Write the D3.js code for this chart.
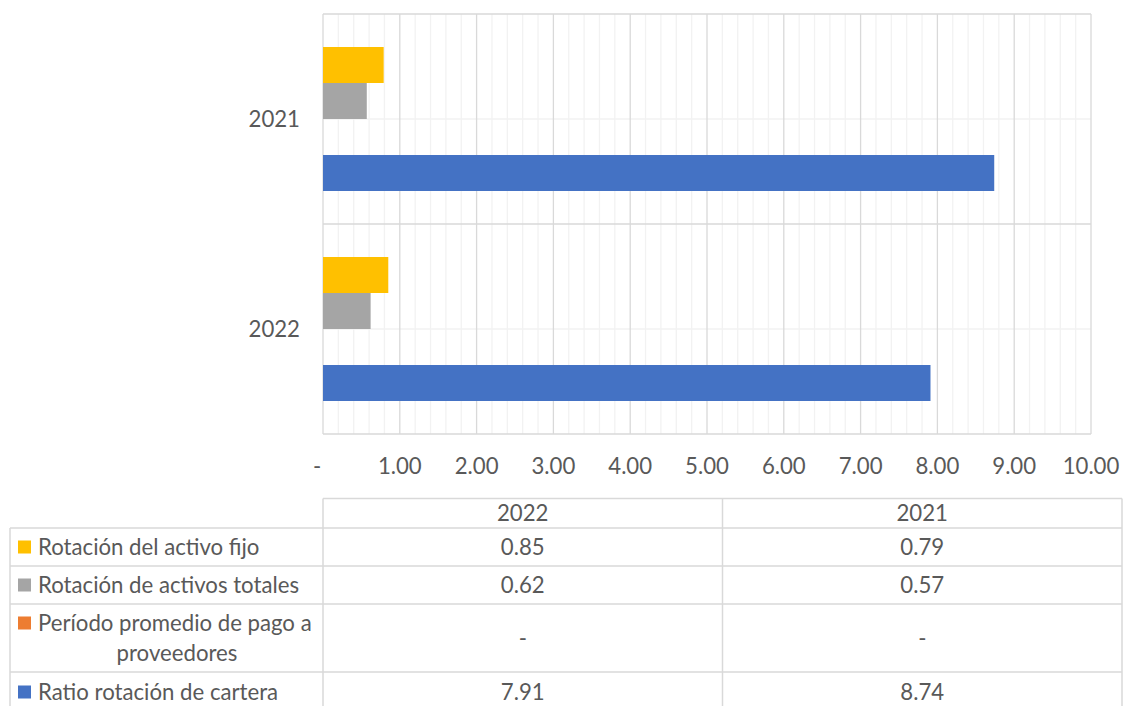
<!DOCTYPE html>
<html>
<head>
<meta charset="utf-8">
<script src="https://cdn.jsdelivr.net/npm/d3@7"></script>
<style>
  html, body { margin: 0; padding: 0; background: #fff; }
  svg { display: block; }
  text { font-family: Lato, "Open Sans", sans-serif; fill: #595959; }
</style>
</head>
<body>
<svg id="chart" width="1123" height="706"></svg>
<script>
// ---- data ----
const categories = ["2021", "2022"];           // top to bottom on the chart
const tableYears = ["2022", "2021"];           // data table column order
const seriesNames = [
  "Rotación del activo fijo",
  "Rotación de activos totales",
  "Período promedio de pago a proveedores",
  "Ratio rotación de cartera"
];
const seriesColors = ["#FFC000", "#A5A5A5", "#ED7D31", "#4472C4"];
const valuesRotacionActivoFijo = { "2022": 0.85, "2021": 0.79 };
const valuesRotacionActivosTotales = { "2022": 0.62, "2021": 0.57 };
const valuesPeriodoPromedioPago = { "2022": 0, "2021": 0 };
const valuesRatioRotacionCartera = { "2022": 7.91, "2021": 8.74 };
const seriesValues = [valuesRotacionActivoFijo, valuesRotacionActivosTotales, valuesPeriodoPromedioPago, valuesRatioRotacionCartera];
const xTicks = [0, 1, 2, 3, 4, 5, 6, 7, 8, 9, 10];
const xTickLabels = ["-", "1.00", "2.00", "3.00", "4.00", "5.00", "6.00", "7.00", "8.00", "9.00", "10.00"];
const legendLabelLines = [
  ["Rotación del activo fijo"],
  ["Rotación de activos totales"],
  ["Período promedio de pago a", "proveedores"],
  ["Ratio rotación de cartera"]
];
const tableTexts = [
  { "2022": "0.85", "2021": "0.79" },
  { "2022": "0.62", "2021": "0.57" },
  { "2022": "-", "2021": "-" },
  { "2022": "7.91", "2021": "8.74" }
];

// ---- layout ----
const FS = "22.2px";
const svg = d3.select("#chart");
const plot = { left: 323, right: 1091, top: 14, bottom: 434 };
const x = d3.scaleLinear().domain([0, 10]).range([plot.left, plot.right]);
const yCat = d3.scaleBand().domain(categories).range([plot.top, plot.bottom]);
const ySer = d3.scaleBand().domain(seriesNames).range([0, yCat.bandwidth()])
  .paddingInner(0).paddingOuter(33 / 36);

// minor vertical gridlines
const minorTicks = d3.range(0, 10.0001, 0.2).filter(v => Math.abs(v - Math.round(v)) > 1e-6);
svg.append("g").selectAll("line").data(minorTicks).join("line")
  .attr("x1", d => x(d)).attr("x2", d => x(d))
  .attr("y1", plot.top).attr("y2", plot.bottom)
  .attr("stroke", "#f2f2f2").attr("stroke-width", 1.3);

// minor horizontal gridlines (category centers)
svg.append("g").selectAll("line").data(categories).join("line")
  .attr("x1", plot.left).attr("x2", plot.right)
  .attr("y1", d => yCat(d) + yCat.bandwidth() / 2).attr("y2", d => yCat(d) + yCat.bandwidth() / 2)
  .attr("stroke", "#f2f2f2").attr("stroke-width", 1.3);

// major vertical gridlines
svg.append("g").selectAll("line").data(xTicks).join("line")
  .attr("x1", d => x(d)).attr("x2", d => x(d))
  .attr("y1", plot.top).attr("y2", plot.bottom)
  .attr("stroke", "#d9d9d9").attr("stroke-width", 1.3);

// major horizontal gridlines (category boundaries)
const catBounds = categories.map(c => yCat(c)).concat([plot.bottom]);
svg.append("g").selectAll("line").data(catBounds).join("line")
  .attr("x1", plot.left).attr("x2", plot.right)
  .attr("y1", d => d).attr("y2", d => d)
  .attr("stroke", "#d9d9d9").attr("stroke-width", 1.3);

// bars
const barData = [];
categories.forEach(c => seriesNames.forEach((s, i) => {
  barData.push({ cat: c, ser: s, i, v: seriesValues[i][c] });
}));
svg.append("g").selectAll("rect").data(barData).join("rect")
  .attr("x", x(0))
  .attr("y", d => yCat(d.cat) + ySer(d.ser))
  .attr("width", d => x(d.v) - x(0))
  .attr("height", ySer.bandwidth())
  .attr("fill", d => seriesColors[d.i]);

// x-axis labels
svg.append("g").selectAll("text").data(xTicks).join("text")
  .attr("x", (d, i) => i === 0 ? x(d) - 6 : x(d))
  .attr("y", 474)
  .attr("text-anchor", "middle")
  .style("font-size", FS)
  .text((d, i) => xTickLabels[i]);

// category labels
svg.append("g").selectAll("text").data(categories).join("text")
  .attr("x", 300)
  .attr("y", d => yCat(d) + yCat.bandwidth() / 2 + 8)
  .attr("text-anchor", "end")
  .style("font-size", FS)
  .text(d => d);

// ---- data table ----
const tbl = { left: 10, colStart: plot.left, right: 1122 };
const rowBounds = [498.5, 528, 566, 604, 672, 712];
const colX = d3.scaleBand().domain(tableYears).range([tbl.colStart, tbl.right]);
const lineColor = "#d9d9d9";
const tg = svg.append("g");

// horizontal lines
rowBounds.forEach((yv, i) => {
  tg.append("line")
    .attr("x1", i === 0 ? tbl.colStart : tbl.left).attr("x2", tbl.right)
    .attr("y1", yv).attr("y2", yv)
    .attr("stroke", lineColor).attr("stroke-width", 1.5);
});
// vertical lines
tg.append("line").attr("x1", tbl.left).attr("x2", tbl.left)
  .attr("y1", rowBounds[1]).attr("y2", rowBounds[5])
  .attr("stroke", lineColor).attr("stroke-width", 1.5);
tableYears.concat(["end"]).forEach(yr => {
  const xv = yr === "end" ? tbl.right : colX(yr);
  tg.append("line").attr("x1", xv).attr("x2", xv)
    .attr("y1", rowBounds[0]).attr("y2", rowBounds[5])
    .attr("stroke", lineColor).attr("stroke-width", 1.5);
});

// header texts
tg.selectAll("text.hdr").data(tableYears).join("text").attr("class", "hdr")
  .attr("x", d => colX(d) + colX.bandwidth() / 2)
  .attr("y", (rowBounds[0] + rowBounds[1]) / 2 + 7.5)
  .attr("text-anchor", "middle")
  .style("font-size", FS)
  .text(d => d);

// rows
seriesNames.forEach((s, i) => {
  const top = rowBounds[i + 1], bot = rowBounds[i + 2];
  const mid = (top + bot) / 2;
  const lines = legendLabelLines[i];
  const lineH = 30;
  const firstY = mid - (lines.length - 1) * lineH / 2;
  tg.append("rect")
    .attr("x", 18).attr("y", firstY - 6.5)
    .attr("width", 13).attr("height", 13)
    .attr("fill", seriesColors[i]);
  lines.forEach((ln, k) => {
    tg.append("text")
      .attr("x", k === 0 ? 38 : 177)
      .attr("y", firstY + k * lineH + 7.5)
      .attr("text-anchor", k === 0 ? "start" : "middle")
      .style("font-size", FS)
      .text(ln);
  });
  tableYears.forEach(yr => {
    tg.append("text")
      .attr("x", colX(yr) + colX.bandwidth() / 2)
      .attr("y", mid + 7.5)
      .attr("text-anchor", "middle")
      .style("font-size", FS)
      .text(tableTexts[i][yr]);
  });
});
</script>
</body>
</html>
